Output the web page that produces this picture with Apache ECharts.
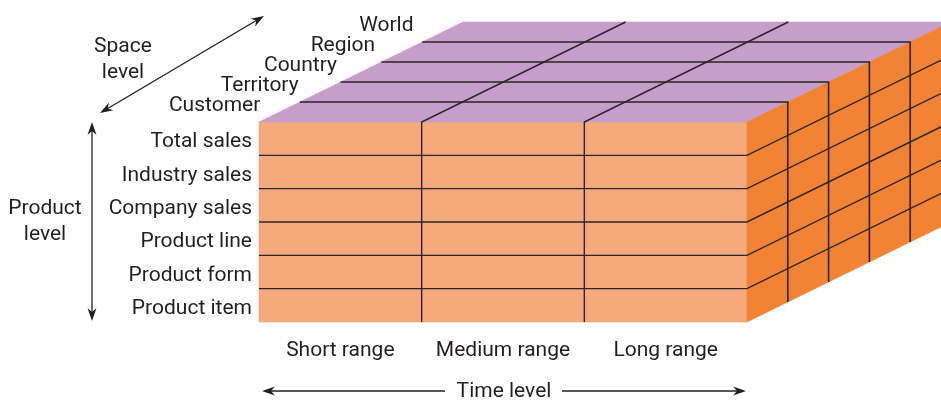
<!DOCTYPE html>
<html><head><meta charset="utf-8">
<script src="https://cdn.jsdelivr.net/npm/echarts@6/dist/echarts.min.js"></script>
<style>html,body{margin:0;padding:0;background:#fff}#c{width:941px;height:400px}</style>
</head><body><div id="c"></div>
<script>
// ---- data ----
const timeRanges = ['Short range', 'Medium range', 'Long range'];
const productLevels = ['Total sales', 'Industry sales', 'Company sales', 'Product line', 'Product form', 'Product item'];
const spaceLevels = ['Customer', 'Territory', 'Country', 'Region', 'World'];
const timeTitle = 'Time level';
const productTitle = ['Product', 'level'];
const spaceTitle = ['Space', 'level'];

// ---- style ----
const FS = 21;
const FONT = FS + 'px Roboto';
const INK = '#231F20';
const FRONT = '#F5A97D', TOP = '#C69ECA', SIDE = '#F28334';
const KX = 0.2508, KY = 0.6; // oblique projection of one space step (in column / row units)
const NC = timeRanges.length, NR = productLevels.length, ND = spaceLevels.length;

function P(api, c, r, d) { return api.coord([c + d * KX, r - d * KY]); }

// cells: [face, i, j]
const cells = [];
timeRanges.forEach((_, c) => productLevels.forEach((_, r) => cells.push([0, c, r])));
timeRanges.forEach((_, c) => spaceLevels.forEach((_, d) => cells.push([1, c, d])));
spaceLevels.forEach((_, d) => productLevels.forEach((_, r) => cells.push([2, d, r])));

// internal boundary lines: [kind, k]
const lines = [];
for (let r = 1; r < NR; r++) lines.push([0, r]);
for (let d = 1; d < ND; d++) lines.push([1, d]);
for (let c = 1; c < NC; c++) lines.push([2, c]);

const spaceLabelData = spaceLevels.map((_, i) => [i]);

function renderCell(params, api) {
  const f = api.value(0), i = api.value(1), j = api.value(2);
  let pts, col;
  if (f === 0) { pts = [P(api, i, j, 0), P(api, i + 1, j, 0), P(api, i + 1, j + 1, 0), P(api, i, j + 1, 0)]; col = FRONT; }
  else if (f === 1) { pts = [P(api, i, 0, j), P(api, i + 1, 0, j), P(api, i + 1, 0, j + 1), P(api, i, 0, j + 1)]; col = TOP; }
  else { pts = [P(api, NC, j, i), P(api, NC, j, i + 1), P(api, NC, j + 1, i + 1), P(api, NC, j + 1, i)]; col = SIDE; }
  return { type: 'polygon', shape: { points: pts }, style: { fill: col, stroke: col, lineWidth: 0.6 } };
}

function renderLine(params, api) {
  const kind = api.value(0), k = api.value(1);
  let pts;
  if (kind === 0) pts = [P(api, 0, k, 0), P(api, NC, k, 0), P(api, NC, k, ND)];
  else if (kind === 1) pts = [P(api, 0, 0, k), P(api, NC, 0, k), P(api, NC, NR, k)];
  else pts = [P(api, k, NR, 0), P(api, k, 0, 0), P(api, k, 0, ND)];
  return { type: 'polyline', shape: { points: pts }, style: { stroke: '#2a2627', lineWidth: kind === 1 ? 1.6 : 1.4, fill: null } };
}

function renderSpaceLabel(params, api) {
  const i = api.value(0), d = i + 1;
  const p = P(api, 0, 0, d);
  return { type: 'text', x: p[0] - (37 + 2.5 * d), y: p[1] + 4,
    style: { text: spaceLevels[i], font: FONT, fill: INK, align: 'right', verticalAlign: 'middle' } };
}

function head(tx, ty, ux, uy) {
  const L = 13, W = 4.5, N = 9, px = -uy, py = ux;
  const bx = tx - ux * L, by = ty - uy * L, nx = tx - ux * N, ny = ty - uy * N;
  return { type: 'polygon', shape: { points: [[tx, ty], [bx + px * W, by + py * W], [nx, ny], [bx - px * W, by - py * W]] }, style: { fill: INK } };
}
function seg(x1, y1, x2, y2) {
  return { type: 'line', shape: { x1, y1, x2, y2 }, style: { stroke: INK, lineWidth: 1.3 } };
}
function txt(s, x, y) {
  return { type: 'text', x, y, style: { text: s, font: FONT, fill: INK, align: 'center', verticalAlign: 'middle' } };
}
function dbl(x1, y1, x2, y2) {
  const dx = x2 - x1, dy = y2 - y1, len = Math.hypot(dx, dy), ux = dx / len, uy = dy / len;
  return [seg(x1 + ux * 6, y1 + uy * 6, x2 - ux * 6, y2 - uy * 6), head(x2, y2, ux, uy), head(x1, y1, -ux, -uy)];
}

const graphic = [].concat(
  dbl(100, 113, 264, 16),
  dbl(92, 122, 92, 321),
  [seg(268, 391, 445, 391), seg(562, 391, 740, 391), head(262, 391, -1, 0), head(746, 391, 1, 0)],
  [txt(timeTitle, 504, 392), txt(productTitle[0], 45, 209), txt(productTitle[1], 45, 235),
   txt(spaceTitle[0], 123, 47), txt(spaceTitle[1], 123, 73)]
);

const chart = echarts.init(document.getElementById('c'), null, { renderer: 'canvas' });
chart.setOption({
  animation: false,
  backgroundColor: '#fff',
  grid: { left: 259, top: 122, width: 488, height: 200, containLabel: false, outerBoundsMode: 'none' },
  xAxis: [
    { type: 'value', min: 0, max: NC, show: false },
    { type: 'category', data: timeRanges, position: 'bottom', axisLine: { show: false }, axisTick: { show: false },
      splitLine: { show: false }, axisLabel: { interval: 0, margin: 18, color: INK, fontFamily: 'Roboto', fontSize: FS } }
  ],
  yAxis: [
    { type: 'value', min: 0, max: NR, inverse: true, show: false },
    { type: 'category', data: productLevels, inverse: true, position: 'left', axisLine: { show: false }, axisTick: { show: false },
      splitLine: { show: false }, axisLabel: { interval: 0, margin: 7, color: INK, fontFamily: 'Roboto', fontSize: FS,
        verticalAlign: 'top', lineHeight: 7 } }
  ],
  series: [
    { type: 'custom', coordinateSystem: 'cartesian2d', xAxisIndex: 0, yAxisIndex: 0, clip: false, silent: true,
      renderItem: renderCell, data: cells, encode: { x: 1, y: 2 }, z: 1 },
    { type: 'custom', coordinateSystem: 'cartesian2d', xAxisIndex: 0, yAxisIndex: 0, clip: false, silent: true,
      renderItem: renderLine, data: lines, encode: { x: 1, y: 1 }, z: 2 },
    { type: 'custom', coordinateSystem: 'cartesian2d', xAxisIndex: 0, yAxisIndex: 0, clip: false, silent: true,
      renderItem: renderSpaceLabel, data: spaceLabelData, encode: { x: 0, y: 0 }, z: 3 }
  ],
  graphic: graphic
});
</script></body></html>
